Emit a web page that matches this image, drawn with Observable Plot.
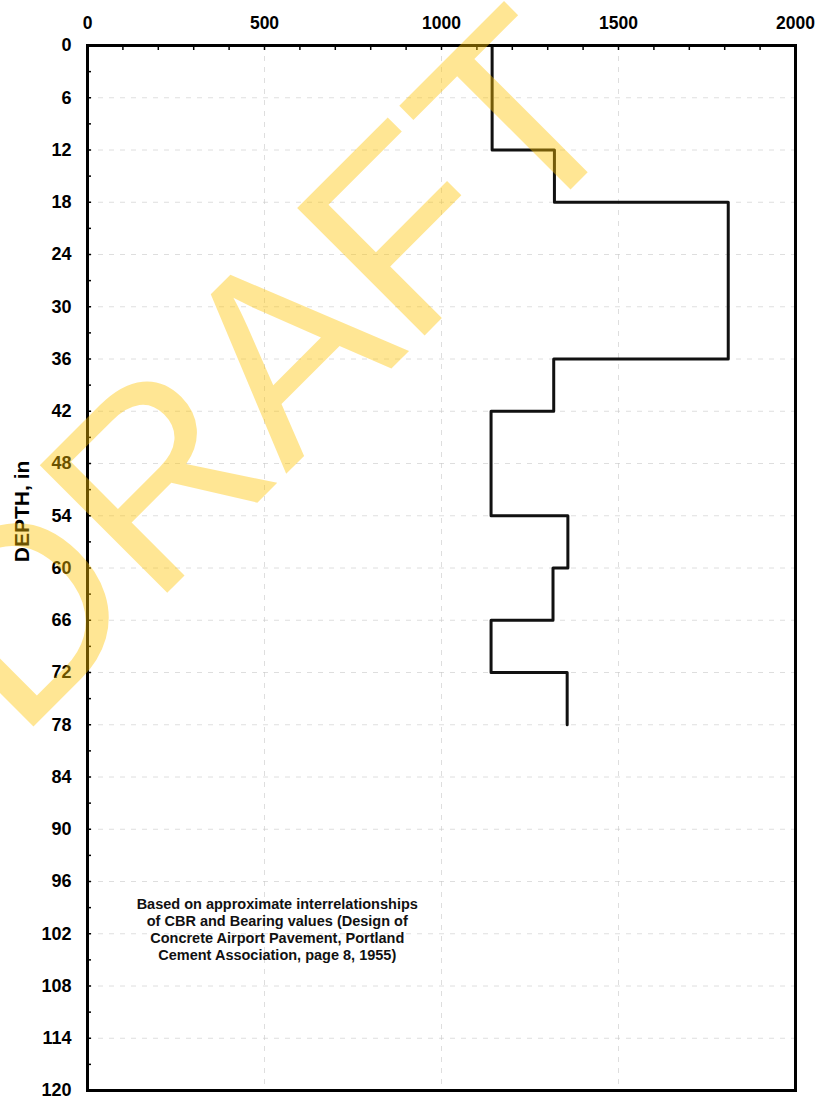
<!DOCTYPE html>
<html>
<head>
<meta charset="utf-8">
<script src="https://cdn.jsdelivr.net/npm/d3@7"></script>
<script src="https://cdn.jsdelivr.net/npm/@observablehq/plot@0.6"></script>
<style>
  html, body { margin: 0; padding: 0; background: #fff; }
  #wrap { position: relative; width: 821px; height: 1100px; }
  #wrap svg { display: block; }
  #wm { position: absolute; left: 0; top: 0; pointer-events: none; }
</style>
</head>
<body>
<div id="wrap"></div>
<script>
// Layers (depth in inches) and values
const layerTop    = [0, 12, 18, 36, 42, 54, 60, 66, 72];
const layerBottom = [12, 18, 36, 42, 54, 60, 66, 72, 78];
const layerValue  = [1143, 1319, 1810, 1317, 1140, 1357, 1315, 1140, 1355];

const xTickLabels = [0, 500, 1000, 1500, 2000];
const xMinorTicks = d3.range(0, 2001, 100);
const yTickLabels = d3.range(0, 121, 6);
const yMinorTicks = d3.range(0, 121, 3);
const xGrid = [500, 1000, 1500];
const yGrid = d3.range(6, 120, 6);

const yTitle = ["DEPTH, in"];
const yTitleDepth = 53.5;

const noteText = "Based on approximate interrelationships\nof CBR and Bearing values (Design of\nConcrete Airport Pavement, Portland\nCement Association, page 8, 1955)";
const noteX = [536];
const noteDepth = [101.5];

const watermarkText = "DRAFT";

// Build stepped profile
const profile = [];
layerTop.forEach((t, i) => {
  profile.push({x: layerValue[i], depth: t});
  profile.push({x: layerValue[i], depth: layerBottom[i]});
});

const font = "'Liberation Sans', Arial, Helvetica, sans-serif";
const blank = () => "";

const chart = Plot.plot({
  width: 821,
  height: 1100,
  marginLeft: 87,
  marginRight: 26,
  marginTop: 45,
  marginBottom: 10,
  style: {fontFamily: font, color: "#000", background: "#fff"},
  x: {domain: [0, 2000]},
  y: {domain: [0, 120], range: [45, 1090]},
  marks: [
    Plot.gridX(xGrid, {stroke: "#c8c8c8", strokeOpacity: 0.6, strokeDasharray: "5,6"}),
    Plot.gridY(yGrid, {stroke: "#c8c8c8", strokeOpacity: 0.6, strokeDasharray: "5,6"}),
    Plot.axisX(xMinorTicks, {anchor: "top", tickSize: -4, tickFormat: blank, label: null, strokeWidth: 1.5}),
    Plot.axisX(xTickLabels, {anchor: "top", tickSize: 0, tickPadding: 17, label: null,
      tickFormat: d => String(d), fontSize: 17.5, fontWeight: "bold"}),
    Plot.axisY(yMinorTicks, {anchor: "left", tickSize: -4, tickFormat: blank, label: null, strokeWidth: 1.5}),
    Plot.axisY(yTickLabels, {anchor: "left", tickSize: 0, tickPadding: 16, label: null,
      tickFormat: d => String(d), fontSize: 18, fontWeight: "bold"}),
    Plot.text(yTitle, {y: () => yTitleDepth, frameAnchor: "left", dx: -65, rotate: -90,
      textAnchor: "middle", fontSize: 21, fontWeight: "bold", fill: "#000"}),
    Plot.line(profile, {x: "x", y: "depth", stroke: "#111", strokeWidth: 3, curve: "linear"}),
    Plot.text(noteX, {x: d => d, y: (d, i) => noteDepth[i], text: () => noteText,
      fontSize: 14.5, fontWeight: "bold", lineHeight: 1.17, textAnchor: "middle", fill: "#111"}),
    Plot.frame({stroke: "#000", strokeWidth: 3})
  ]
});

document.getElementById("wrap").appendChild(chart);

// Watermark overlay
const ns = "http://www.w3.org/2000/svg";
const wm = document.createElementNS(ns, "svg");
wm.setAttribute("id", "wm");
wm.setAttribute("width", 821);
wm.setAttribute("height", 1100);
const t = document.createElementNS(ns, "text");
t.setAttribute("transform", "translate(327,433) rotate(-45)");
t.setAttribute("text-anchor", "middle");
t.setAttribute("font-family", font);
t.setAttribute("font-size", 262);
t.setAttribute("fill", "rgb(255,196,0)");
t.setAttribute("fill-opacity", 0.42);
t.textContent = watermarkText;
wm.appendChild(t);
document.getElementById("wrap").appendChild(wm);
</script>
</body>
</html>
